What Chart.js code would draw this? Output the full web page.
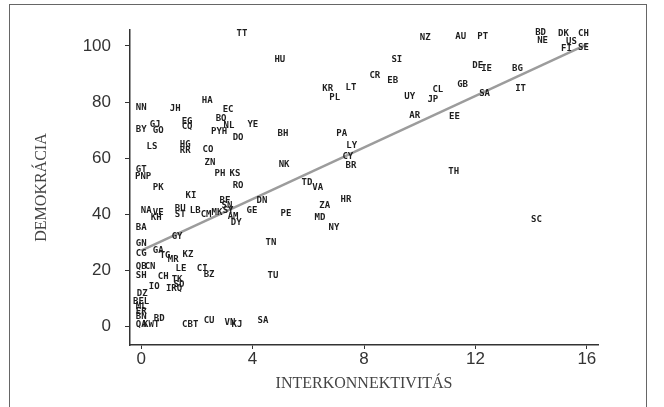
<!DOCTYPE html>
<html lang="hu">
  <head>
    <meta charset="UTF-8" />
    <title>Demokrácia és interkonnektivitás</title>
    <script src="https://cdn.jsdelivr.net/npm/chart.js"></script>
    <style>
      body {
        margin: 0;
        background: #fff;
      }
      #wrap {
        position: relative;
        width: 664px;
        height: 407px;
        overflow: hidden;
      }
      #frame {
        position: absolute;
        left: 9px;
        top: 4px;
        width: 636px;
        height: 420px;
        border: 1px solid #666;
        pointer-events: none;
      }
    </style>
  </head>
  <body>
    <div id="wrap">
      <canvas id="myChart" width="664" height="407"></canvas>
      <div id="frame"></div>
    </div>

    <script>
      // country codes and their values
      const codes = [
        "TT", "HU", "HA", "NN", "JH", "EC", "NZ", "SI", "CR", "EB",
        "KR", "LT", "PL", "UY", "CL", "JP", "AU", "PT", "BD", "NE",
        "DK", "US", "FI", "CH", "SE", "DE", "IE", "BG", "GB", "SA",
        "IT", "BY", "GJ", "GO", "EG", "CQ", "BQ", "NL", "PYH", "DO",
        "YE", "BH", "LS", "HG", "RR", "CO", "ZN", "GT", "PNP", "PH",
        "KS", "RO", "NK", "PK", "PA", "LY", "CY", "BR", "AR", "TD",
        "VA", "EE", "TH", "KI", "BF", "DN", "GE", "PE", "NA", "VE",
        "KH", "BU", "ST", "LB", "CM", "MK", "SY", "AM", "DY", "SN",
        "BA", "GY", "TN", "GN", "CG", "GA", "TG", "MR", "KZ", "QB",
        "CN", "SH", "CH", "LE", "TK", "CI", "BZ", "TU", "IO", "IRQ",
        "SD", "DZ", "BEL", "ML", "ER", "BN", "BD", "KWT", "QA", "CBT",
        "CU", "VN", "KJ", "SA", "SC", "ZA", "HR", "MD", "NY"
      ];
      const xs = [
        3.62, 4.98, 2.37, 0.0, 1.22, 3.12, 10.2, 9.18, 8.39, 9.03,
        6.7, 7.53, 6.95, 9.64, 10.65, 10.47, 11.47, 12.26, 14.34, 14.41,
        15.16, 15.45, 15.27, 15.88, 15.88, 12.08, 12.4, 13.51, 11.54, 12.33,
        13.62, 0.0, 0.5, 0.61, 1.65, 1.65, 2.87, 3.15, 2.8, 3.48,
        4.01, 5.09, 0.39, 1.58, 1.58, 2.4, 2.47, 0.0, 0.07, 2.83,
        3.37, 3.48, 5.13, 0.61, 7.2, 7.56, 7.42, 7.53, 9.82, 5.95,
        6.34, 11.25, 11.22, 1.79, 3.01, 4.34, 3.98, 5.2, 0.18, 0.61,
        0.54, 1.4, 1.4, 1.94, 2.33, 2.72, 3.12, 3.3, 3.41, 3.08,
        0.0, 1.29, 4.66, 0.0, 0.0, 0.61, 0.86, 1.15, 1.68, 0.0,
        0.32, 0.0, 0.79, 1.43, 1.29, 2.19, 2.44, 4.73, 0.47, 1.18,
        1.36, 0.04, 0.0, 0.0, 0.0, 0.0, 0.65, 0.36, 0.0, 1.76,
        2.44, 3.19, 3.44, 4.37, 14.19, 6.59, 7.35, 6.42, 6.92
      ];
      const ys = [
        104.3, 95.0, 80.5, 78.0, 77.7, 77.3, 102.8, 95.0, 89.4, 87.6,
        84.8, 85.1, 81.6, 81.9, 84.4, 80.9, 103.5, 103.5, 104.6, 101.8,
        104.3, 101.4, 98.9, 104.3, 99.3, 92.9, 91.8, 91.8, 86.2, 83.0,
        84.8, 70.2, 72.0, 69.9, 73.0, 71.3, 74.1, 71.6, 69.5, 67.4,
        72.0, 68.8, 64.2, 64.9, 62.8, 63.1, 58.2, 56.0, 53.5, 54.3,
        54.3, 50.0, 57.8, 49.3, 68.8, 64.5, 60.6, 57.4, 75.2, 51.1,
        49.3, 74.8, 55.0, 46.5, 44.7, 44.7, 41.1, 40.1, 41.1, 40.4,
        38.7, 41.8, 39.7, 41.1, 39.7, 40.4, 41.1, 39.0, 36.9, 42.9,
        35.1, 31.9, 29.8, 29.4, 25.9, 27.0, 25.2, 23.8, 25.5, 21.3,
        21.3, 18.1, 17.7, 20.6, 16.7, 20.6, 18.4, 18.1, 14.2, 13.5,
        14.9, 11.7, 8.9, 7.1, 5.3, 3.5, 2.8, 0.4, 0.4, 0.4,
        2.1, 1.4, 0.4, 2.1, 37.9, 42.9, 45.0, 38.7, 35.1
      ];

      // fitted line end points
      const fitX = [0, 16];
      const fitY = [27, 100.6];

      const xTicks = [0, 4, 8, 12, 16];
      const yTicks = [0, 20, 40, 60, 80, 100];

      const points = codes.map((c, i) => ({ x: xs[i], y: ys[i] }));
      const fitPoints = fitX.map((x, i) => ({ x: x, y: fitY[i] }));

      const codeLabels = {
        id: "codeLabels",
        afterDatasetsDraw(chart) {
          const ctx = chart.ctx;
          const meta = chart.getDatasetMeta(1);
          ctx.save();
          ctx.font = "bold 9px 'DejaVu Sans Mono'";
          ctx.fillStyle = "#1e1e1e";
          ctx.textAlign = "center";
          ctx.textBaseline = "middle";
          meta.data.forEach((el, i) => {
            ctx.fillText(codes[i], el.x, el.y);
          });
          ctx.restore();
        },
      };

      const tickFont = {
        family: "'Liberation Sans', Arial, sans-serif",
        size: 17,
      };
      const titleFont = { family: "'Liberation Serif', serif", size: 16 };

      const ctx = document.getElementById("myChart").getContext("2d");
      const myChart = new Chart(ctx, {
        type: "scatter",
        data: {
          datasets: [
            {
              type: "line",
              data: fitPoints,
              borderColor: "#9c9c9c",
              borderWidth: 2.5,
              pointRadius: 0,
              fill: false,
            },
            {
              data: points,
              pointRadius: 0,
              clip: false,
            },
          ],
        },
        plugins: [codeLabels],
        options: {
          responsive: false,
          animation: false,
          layout: { padding: { left: 20, top: 30, right: 66, bottom: 0 } },
          plugins: {
            legend: { display: false },
            tooltip: { enabled: false },
          },
          scales: {
            x: {
              type: "linear",
              min: -0.4,
              max: 16.4,
              afterBuildTicks: (s) => {
                s.ticks = xTicks.map((v) => ({ value: v }));
              },
              afterFit: (s) => {
                s.height = 62;
              },
              grid: {
                drawOnChartArea: false,
                drawTicks: true,
                tickLength: 4,
                color: "#333",
              },
              border: { color: "#333", width: 1.5 },
              ticks: { font: tickFont, color: "#333", padding: 0 },
              title: {
                display: true,
                text: "INTERKONNEKTIVITÁS",
                font: titleFont,
                color: "#444",
                padding: { top: 0, bottom: 14 },
              },
            },
            y: {
              type: "linear",
              min: -6.7,
              max: 105.7,
              afterBuildTicks: (s) => {
                s.ticks = yTicks.map((v) => ({ value: v }));
              },
              afterFit: (s) => {
                s.width = 110;
              },
              grid: {
                drawOnChartArea: false,
                drawTicks: true,
                tickLength: 5,
                color: "#333",
              },
              border: { color: "#333", width: 1.5 },
              ticks: { font: tickFont, color: "#333", padding: 14 },
              title: {
                display: true,
                text: "DEMOKRÁCIA",
                font: titleFont,
                color: "#444",
                padding: { top: 12, bottom: 0 },
              },
            },
          },
        },
      });
    </script>
  </body>
</html>
